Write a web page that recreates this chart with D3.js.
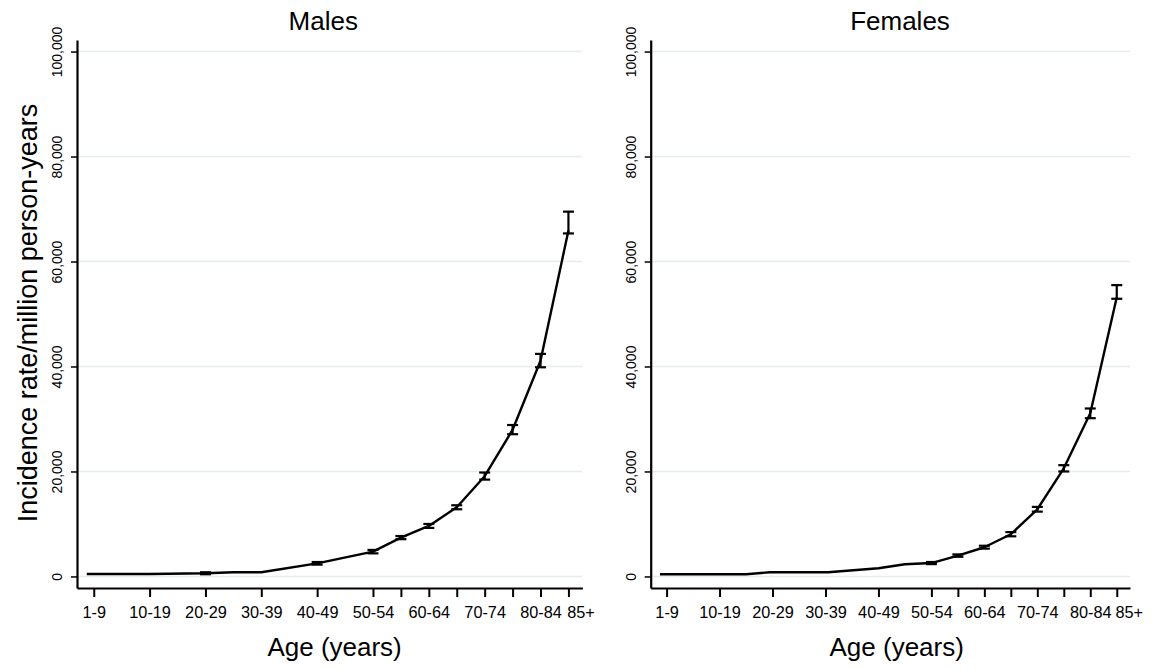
<!DOCTYPE html>
<meta charset="utf-8">

<!-- Load d3.js -->
<script src="https://d3js.org/d3.v7.min.js"></script>
<style>
  body { margin: 0; background: #fff; }
  text { font-family: "Liberation Sans", Arial, sans-serif; fill: #000; }
</style>

<div id="my_dataviz"></div>

<script>

  // x axis: tick position (years) and tick labels
  const ageTicks = [0, 10, 20, 30, 40, 50, 55, 60, 65, 70, 75, 80, 85];
  const ageLabels = ["1-9", "10-19", "20-29", "30-39", "40-49", "50-54", "", "60-64", "", "70-74", "", "80-84", "85+"];
  const rateTicks = [0, 20000, 40000, 60000, 80000, 100000];

  // males - connected line
  const maleLineAge = [-1.25, 0, 10, 20, 25, 30, 40, 50, 55, 60, 65, 70, 75, 80, 85];
  const maleLineRate = [470, 470, 470, 600, 800, 800, 2500, 4720, 7390, 9620, 13180, 19100, 27950, 41100, 65900];
  // males - 95% CI
  const maleCiAge = [20, 40, 50, 55, 60, 65, 70, 75, 80, 85];
  const maleCiLow = [420, 2250, 4400, 7100, 9250, 12800, 18450, 27100, 39850, 65350];
  const maleCiHigh = [800, 2750, 5050, 7700, 10000, 13560, 19800, 28850, 42400, 69500];

  // females - connected line
  const femaleLineAge = [-1.25, 0, 10, 15, 19.5, 30.5, 40, 45, 50, 55, 60, 65, 70, 75, 80, 85];
  const femaleLineRate = [420, 420, 420, 420, 800, 800, 1560, 2320, 2550, 3960, 5560, 8040, 12800, 20600, 31100, 53200];
  // females - 95% CI
  const femaleCiAge = [50, 55, 60, 65, 70, 75, 80, 85];
  const femaleCiLow = [2350, 3750, 5300, 7650, 12350, 20000, 30150, 52900];
  const femaleCiHigh = [2750, 4200, 5850, 8450, 13250, 21200, 32000, 55500];

  const width = 1152, height = 669;
  const plotTop = 40, plotBottom = 588;

  const svg = d3.select("#my_dataviz")
    .append("svg")
    .attr("width", width)
    .attr("height", height);

  function drawPanel(p, lineAge, lineRate, ciAge, ciLow, ciHigh) {
    const x = d3.scaleLinear().domain([-3, 87.5]).range([p.left, p.right]);
    const y = d3.scaleLinear().domain([-2200, 102200]).range([plotBottom, plotTop]);

    // grid lines
    svg.append("g")
      .selectAll("line")
      .data(rateTicks)
      .join("line")
      .attr("x1", p.left + 1)
      .attr("x2", p.right)
      .attr("y1", d => y(d))
      .attr("y2", d => y(d))
      .attr("stroke", "#e5eded")
      .attr("stroke-width", 1.5);

    // Y axis
    const yAxis = svg.append("g")
      .attr("transform", `translate(${p.left},0)`)
      .call(d3.axisLeft(y).tickValues(rateTicks).tickSize(6).tickSizeOuter(0).tickFormat(d3.format(",")));
    yAxis.select(".domain").attr("stroke", "#000").attr("stroke-width", 2.2);
    yAxis.selectAll(".tick line").attr("stroke", "#000").attr("stroke-width", 1.5);
    yAxis.selectAll(".tick text")
      .attr("x", null)
      .attr("dy", null)
      .attr("text-anchor", "middle")
      .attr("transform", "translate(-15,0) rotate(-90)")
      .style("font-size", "14px")
      .attr("font-family", "Liberation Sans, Arial, sans-serif");

    // X axis
    const xAxis = svg.append("g")
      .attr("transform", `translate(0,${plotBottom})`)
      .call(d3.axisBottom(x).tickValues(ageTicks).tickSize(9).tickSizeOuter(0).tickFormat((d, i) => ageLabels[i]));
    xAxis.select(".domain").attr("stroke", "#000").attr("stroke-width", 2.2);
    xAxis.selectAll(".tick line").attr("stroke", "#000").attr("stroke-width", 2);
    xAxis.selectAll(".tick text")
      .attr("y", 29.5)
      .attr("dy", null)
      .attr("dx", (d, i) => ageLabels[i] === "85+" ? 12 : 0)
      .style("font-size", "16.3px")
      .attr("font-family", "Liberation Sans, Arial, sans-serif");

    // line
    const pts = lineAge.map((a, i) => ({ age: a, rate: lineRate[i] }));
    svg.append("path")
      .datum(pts)
      .attr("fill", "none")
      .attr("stroke", "#000")
      .attr("stroke-width", 2.4)
      .attr("stroke-linejoin", "round")
      .attr("d", d3.line().x(d => x(d.age)).y(d => y(d.rate)));

    // error bars
    const ci = ciAge.map((a, i) => ({ age: a, lo: ciLow[i], hi: ciHigh[i] }));
    const bars = svg.append("g")
      .selectAll("g")
      .data(ci)
      .join("g")
      .attr("stroke", "#000")
      .attr("stroke-width", 2.2);
    bars.append("line")
      .attr("x1", d => x(d.age)).attr("x2", d => x(d.age))
      .attr("y1", d => y(d.lo)).attr("y2", d => y(d.hi));
    bars.append("line")
      .attr("x1", d => x(d.age) - 5.5).attr("x2", d => x(d.age) + 5.5)
      .attr("y1", d => y(d.lo)).attr("y2", d => y(d.lo));
    bars.append("line")
      .attr("x1", d => x(d.age) - 5.5).attr("x2", d => x(d.age) + 5.5)
      .attr("y1", d => y(d.hi)).attr("y2", d => y(d.hi));

    // panel title
    svg.append("text")
      .attr("x", p.titleX)
      .attr("y", 29.5)
      .attr("text-anchor", "middle")
      .style("font-size", "26px")
      .text(p.title);

    // X axis label
    svg.append("text")
      .attr("x", p.xTitleX)
      .attr("y", 656)
      .attr("text-anchor", "middle")
      .style("font-size", "26px")
      .text("Age (years)");
  }

  drawPanel({ title: "Males", left: 77, right: 582.4, titleX: 323.3, xTitleX: 334.6 },
    maleLineAge, maleLineRate, maleCiAge, maleCiLow, maleCiHigh);
  drawPanel({ title: "Females", left: 650.7, right: 1130, titleX: 900, xTitleX: 896.7 },
    femaleLineAge, femaleLineRate, femaleCiAge, femaleCiLow, femaleCiHigh);

  // Y axis label
  svg.append("text")
    .attr("text-anchor", "middle")
    .attr("transform", "translate(37,313) rotate(-90)")
    .style("font-size", "27px")
    .text("Incidence rate/million person-years");

</script>
